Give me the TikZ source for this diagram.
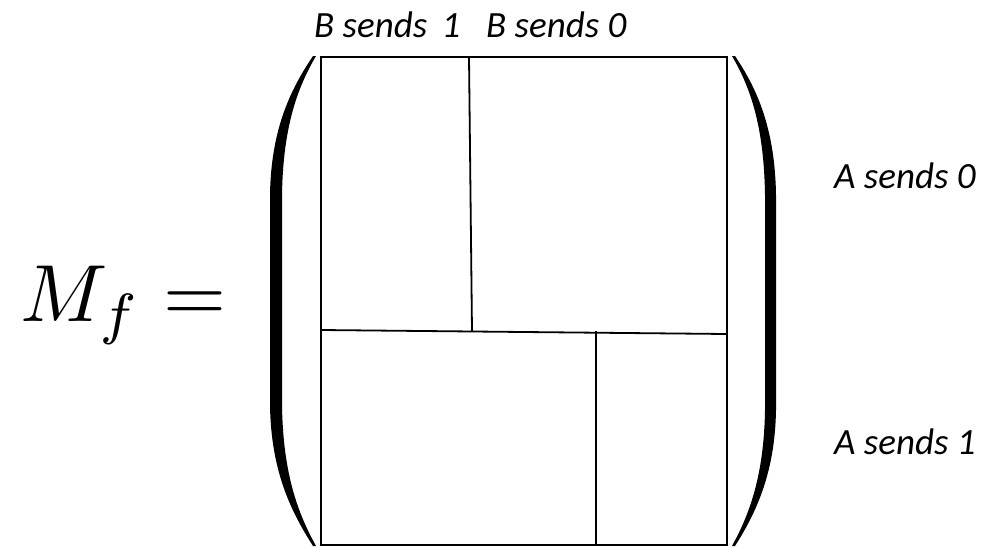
\documentclass[tikz,border=0pt]{standalone}
\usepackage{fontspec}
\newfontfamily\lblfont{Carlito}
\tikzset{
  grid/.style={line width=1.8pt, line cap=rect},
  lbl/.style={anchor=base west, inner sep=0pt, font=\lblfont\itshape\fontsize{37}{42}\selectfont},
  paren/.style={fill=black, draw=none}
}
\begin{document}
\begin{tikzpicture}[x=1pt,y=-1pt]
\useasboundingbox (0,0) rectangle (994,547);
% box corners
\coordinate (tl) at (321,57);
\coordinate (tr) at (727,57);
\coordinate (bl) at (321,545);
\coordinate (br) at (727,545);
\coordinate (t1) at (469,57);
\coordinate (m1) at (472,331);
\coordinate (ml) at (321,330);
\coordinate (mr) at (727,334);
\coordinate (m2) at (596,332);
\coordinate (b2) at (596,545);
\draw[grid] (tl) -- (tr) -- (br) -- (bl) -- cycle;
\draw[grid] (t1) -- (m1);
\draw[grid] (ml) -- (mr);
\draw[grid] (m2) -- (b2);
% left parenthesis
\fill[paren] (313,56) .. controls (290,90) and (271,130) .. (270,195) -- (270,405)
  .. controls (271,470) and (290,510) .. (313,546) -- (316,546)
  .. controls (296,510) and (283,470) .. (282,405) -- (282,195)
  .. controls (283,130) and (296,90) .. (316,56) -- cycle;
% right parenthesis
\fill[paren] (735,56) .. controls (758,90) and (775,130) .. (776,195) -- (776,410)
  .. controls (775,470) and (758,510) .. (735,546) -- (732,546)
  .. controls (752,510) and (764,470) .. (765,410) -- (765,195)
  .. controls (764,130) and (752,90) .. (732,56) -- cycle;
% formula
\node[anchor=base west, inner sep=0pt, scale=8.1] (mf) at (19,321) {$M_f =$};
% labels
\node[lbl] (b1) at (314,37) {B sends \,1};
\node[lbl] (b0) at (486,37) {B sends 0};
\node[lbl] (a0) at (834,188) {A sends 0};
\node[lbl] (a1) at (834,454) {A sends 1};
\end{tikzpicture}
\end{document}
